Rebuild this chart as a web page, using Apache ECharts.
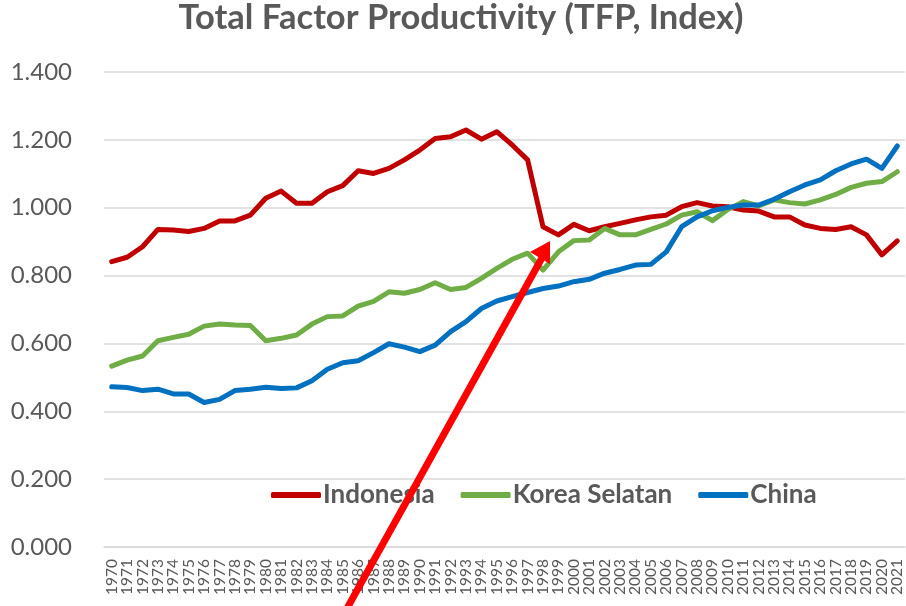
<!DOCTYPE html>
<html>
<head>
<meta charset="utf-8">
<title>TFP</title>
<script src="https://cdn.jsdelivr.net/npm/echarts@6/dist/echarts.min.js"></script>
<style>
  html, body { margin: 0; padding: 0; background: #fff; }
  #main { width: 906px; height: 606px; }
</style>
</head>
<body>
<div id="main"></div>
<script>
// years 1970 - 2021
var years = [];
for (var y = 1970; y <= 2021; y++) years.push(String(y));

var indonesia = [
  0.841, 0.854, 0.885, 0.936, 0.934, 0.930, 0.939, 0.961, 0.961, 0.978,
  1.028, 1.049, 1.013, 1.013, 1.047, 1.065, 1.109, 1.101, 1.116, 1.141,
  1.170, 1.204, 1.209, 1.229, 1.202, 1.224, 1.185, 1.141, 0.944, 0.920,
  0.951, 0.932, 0.944, 0.954, 0.964, 0.973, 0.978, 1.003, 1.015, 1.005,
  1.003, 0.993, 0.990, 0.973, 0.973, 0.949, 0.939, 0.936, 0.944, 0.920,
  0.861, 0.902
];
var korea = [
  0.533, 0.551, 0.563, 0.608, 0.618, 0.627, 0.651, 0.657, 0.654, 0.653,
  0.608, 0.615, 0.625, 0.657, 0.679, 0.681, 0.710, 0.724, 0.752, 0.748,
  0.759, 0.779, 0.759, 0.765, 0.792, 0.821, 0.848, 0.866, 0.816, 0.870,
  0.903, 0.905, 0.939, 0.920, 0.920, 0.936, 0.952, 0.978, 0.988, 0.962,
  0.995, 1.018, 1.005, 1.023, 1.015, 1.011, 1.023, 1.039, 1.060, 1.072,
  1.077, 1.106
];
var china = [
  0.472, 0.470, 0.461, 0.465, 0.451, 0.451, 0.426, 0.435, 0.461, 0.465,
  0.471, 0.467, 0.469, 0.490, 0.524, 0.543, 0.549, 0.573, 0.599, 0.589,
  0.576, 0.595, 0.635, 0.664, 0.703, 0.725, 0.738, 0.750, 0.762, 0.769,
  0.782, 0.789, 0.807, 0.818, 0.831, 0.833, 0.870, 0.944, 0.973, 0.991,
  1.001, 1.008, 1.008, 1.025, 1.047, 1.067, 1.082, 1.109, 1.129, 1.143,
  1.116, 1.182
];

var names = ["Indonesia", "Korea Selatan", "China"];
var colors = ["#C00000", "#70AD47", "#0070C0"];
var txt = "#595959";

function lineSeries(name, data, color) {
  return {
    name: name,
    type: "line",
    data: data,
    symbol: "none",
    color: color,
    lineStyle: { width: 5, color: color, cap: "round", join: "round" }
  };
}

var myChart = echarts.init(document.getElementById("main"));
myChart.setOption({
  animation: false,
  color: colors,
  title: {
    text: "Total Factor Productivity (TFP, Index)",
    left: 461,
    textAlign: "center",
    top: 0,
    padding: 0,
    textStyle: { fontFamily: "Lato", fontWeight: "bold", fontSize: 34.5, color: txt }
  },
  grid: { left: 104, right: 1, top: 72, bottom: 59 },
  legend: {
    data: names,
    left: 266,
    top: 477,
    icon: "roundRect",
    itemWidth: 50,
    itemHeight: 6,
    itemGap: 26,
    textStyle: { fontFamily: "Lato", fontWeight: "bold", fontSize: 26, color: txt, padding: [0, 0, 0, -3] }
  },
  xAxis: {
    type: "category",
    data: years,
    boundaryGap: true,
    axisLine: { lineStyle: { color: "#d9d9d9", width: 1.5 } },
    axisTick: { show: false },
    axisLabel: {
      interval: 0,
      rotate: 90,
      margin: 12,
      fontFamily: "Lato",
      fontSize: 15.5,
      color: txt
    }
  },
  yAxis: {
    type: "value",
    min: 0,
    max: 1.4,
    interval: 0.2,
    axisLine: { show: false },
    axisTick: { show: false },
    splitLine: { lineStyle: { color: "#d9d9d9", width: 1.5 } },
    axisLabel: {
      margin: 32,
      fontFamily: "Lato",
      fontSize: 24,
      color: txt,
      formatter: function (v) { return v.toFixed(3); }
    }
  },
  series: [
    lineSeries(names[0], indonesia, colors[0]),
    lineSeries(names[1], korea, colors[1]),
    lineSeries(names[2], china, colors[2])
  ],
  // red annotation arrow
  graphic: [
    {
      type: "line",
      z: 100,
      shape: { x1: 345, y1: 612, x2: 543, y2: 256 },
      style: { stroke: "#FF0000", lineWidth: 7 }
    },
    {
      type: "polygon",
      z: 100,
      shape: { points: [[550, 241], [530, 252], [550, 264]] },
      style: { fill: "#FF0000" }
    }
  ]
});
</script>
</body>
</html>
